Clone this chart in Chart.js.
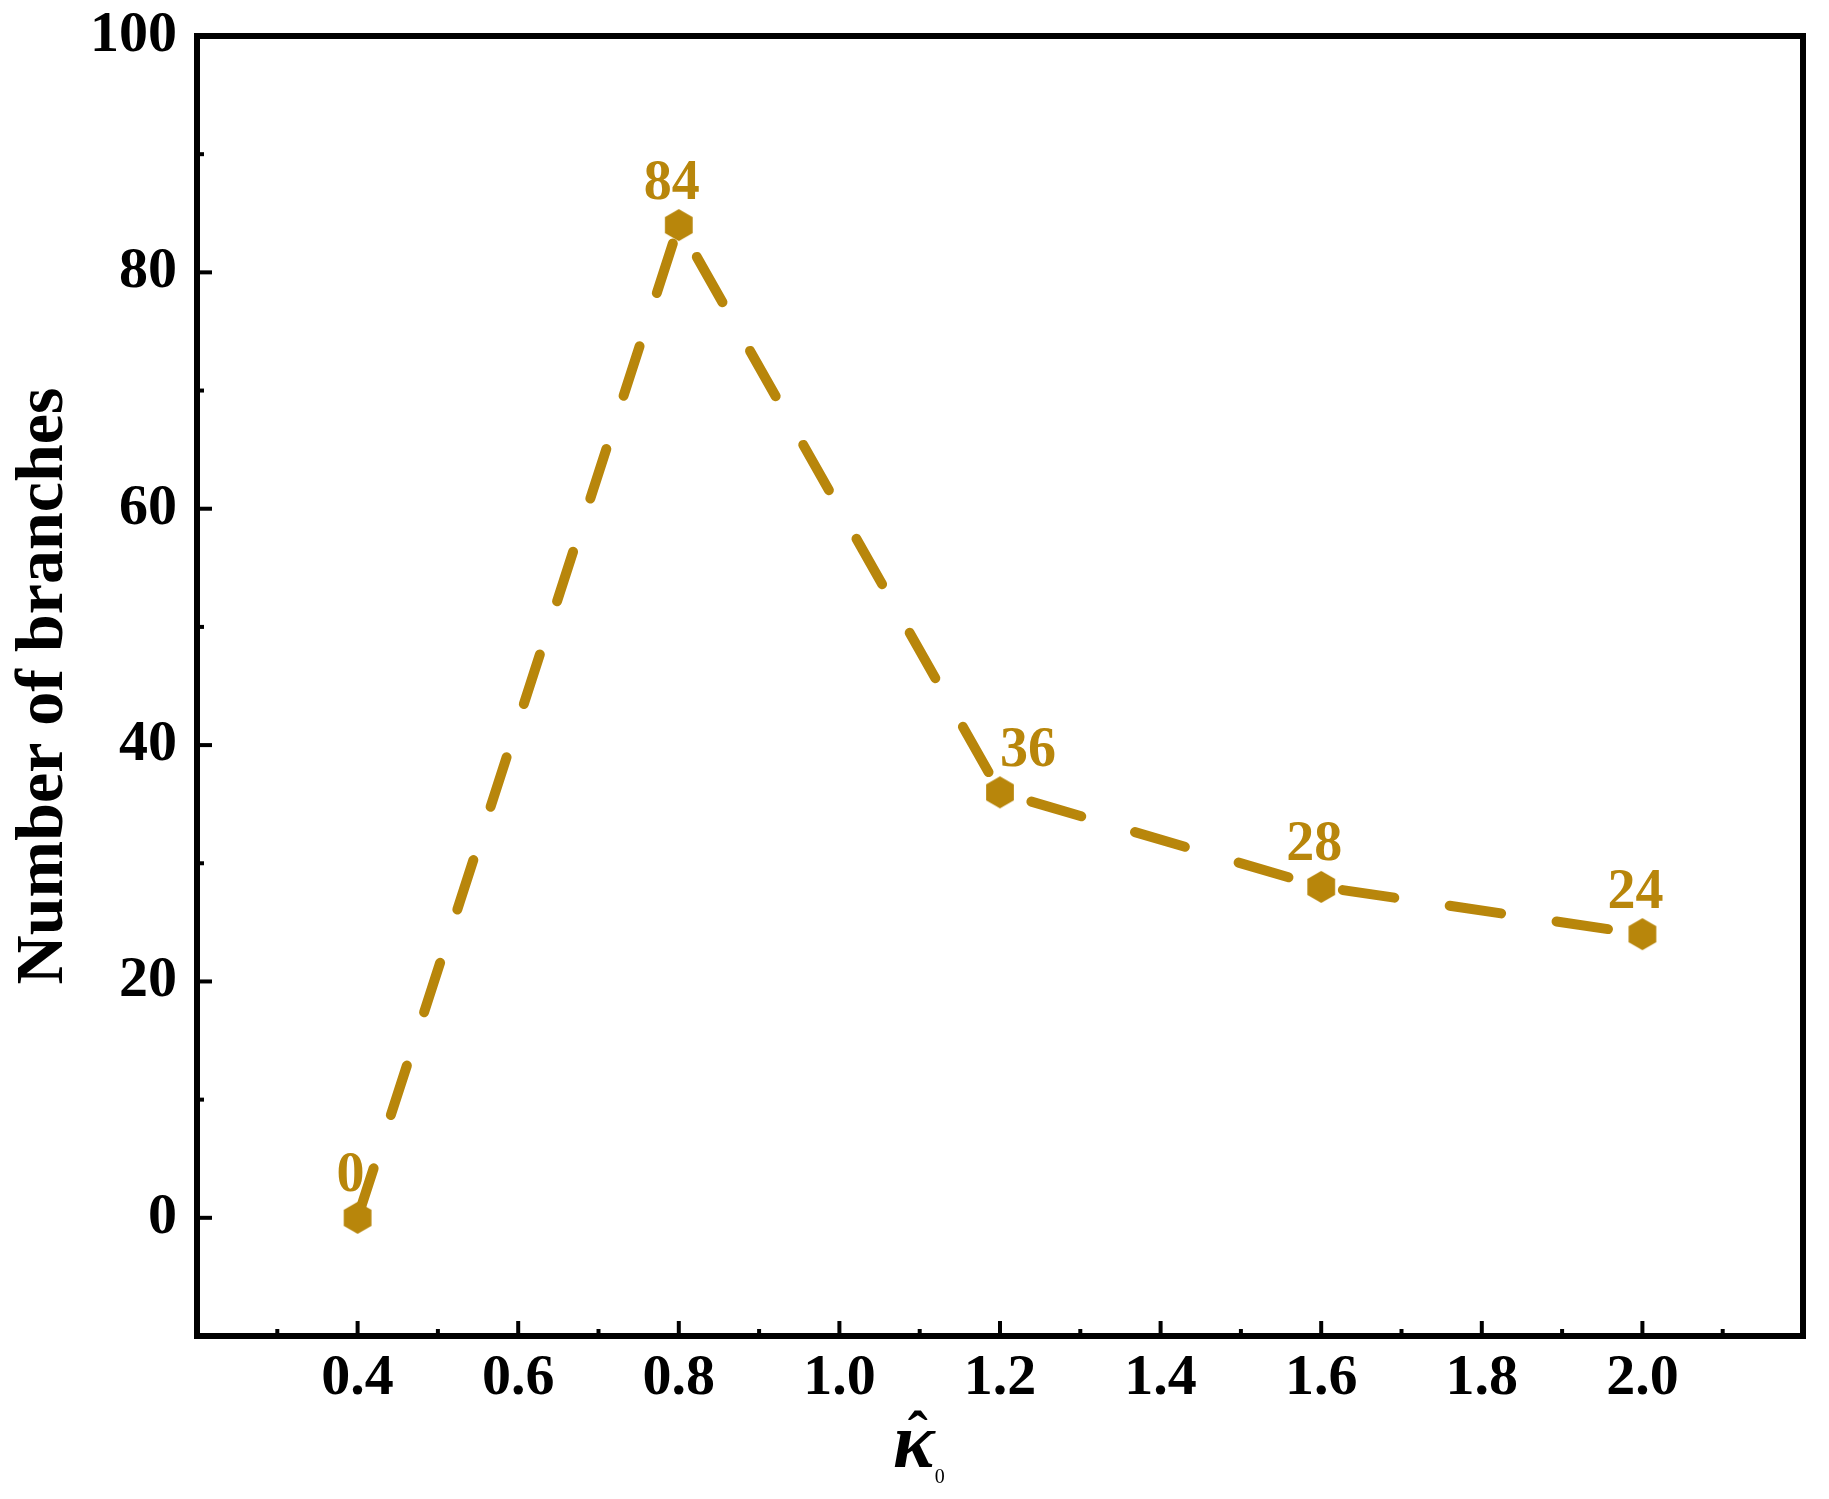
<!DOCTYPE html>
<html>
<head>
<meta charset="utf-8">
<script src="https://cdn.jsdelivr.net/npm/chart.js@4.4.1/dist/chart.umd.min.js"></script>
<style>
  html, body { margin: 0; padding: 0; background: #fff; }
  #wrap { width: 1829px; height: 1499px; }
</style>
</head>
<body>
<div id="wrap"><canvas id="myChart" width="1829" height="1499"></canvas></div>
<script>
// data
const kappaValues = [0.4, 0.8, 1.2, 1.6, 2.0];
const branchCounts = [0, 84, 36, 28, 24];
const xTickLabels = ['0.4', '0.6', '0.8', '1.0', '1.2', '1.4', '1.6', '1.8', '2.0'];
const yTickLabels = ['0', '20', '40', '60', '80', '100'];

const GOLD = '#B8860B';
const SERIF = '"Liberation Serif", "Times New Roman", serif';

document.addEventListener("DOMContentLoaded", () => {
    displayChart();
})

function hexagon(r, color) {
    let c = document.createElement('canvas');
    let size = Math.ceil(r * 2) + 2;
    c.width = size;
    c.height = size;
    let g = c.getContext('2d');
    g.fillStyle = color;
    g.beginPath();
    for (let k = 0; k < 6; k++) {
        let ang = -Math.PI / 2 + k * Math.PI / 3;
        let px = size / 2 + r * Math.cos(ang);
        let py = size / 2 + r * Math.sin(ang);
        if (k === 0) g.moveTo(px, py); else g.lineTo(px, py);
    }
    g.closePath();
    g.fill();
    return c;
}

// inward ticks + closed frame, like the original plot
const frameTicks = {
    id: 'frameTicks',
    afterDraw(chart) {
        const {ctx, chartArea: a, scales: {x, y}} = chart;
        ctx.save();
        ctx.strokeStyle = '#000';
        ctx.lineCap = 'butt';
        ctx.lineWidth = 4;

        let n = Math.round((x.max - x.min) / 0.1);
        for (let i = 1; i < n; i++) {
            let v = x.min + i * 0.1;
            let major = i % 2 === 0;
            let px = x.getPixelForValue(v);
            ctx.beginPath();
            ctx.moveTo(px, a.bottom);
            ctx.lineTo(px, a.bottom - (major ? 15 : 7));
            ctx.stroke();
        }
        n = Math.round((y.max - y.min) / 10);
        for (let i = 1; i < n; i++) {
            let v = y.min + i * 10;
            let major = Math.round(v) % 20 === 0;
            let py = y.getPixelForValue(v);
            ctx.beginPath();
            ctx.moveTo(a.left, py);
            ctx.lineTo(a.left + (major ? 15 : 7), py);
            ctx.stroke();
        }

        ctx.lineWidth = 6;
        ctx.strokeRect(a.left, a.top, a.right - a.left, a.bottom - a.top);

        // x axis title: kappa hat, subscript 0
        let kx = x.getPixelForValue(1.1) - 6;
        let ky = 1467;
        ctx.fillStyle = '#000';
        ctx.textAlign = 'center';
        ctx.textBaseline = 'alphabetic';
        ctx.font = 'italic bold 78px ' + SERIF;
        ctx.fillText('κ', kx, ky);
        ctx.font = 'bold 60px ' + SERIF;
        ctx.fillText('ˆ', kx + 4, ky - 15);
        ctx.font = '20px ' + SERIF;
        ctx.fillText('0', kx + 26, ky + 16);
        ctx.restore();
    }
};

const valueLabels = {
    id: 'valueLabels',
    afterDatasetsDraw(chart) {
        const ctx = chart.ctx;
        const meta = chart.getDatasetMeta(0);
        ctx.save();
        ctx.fillStyle = GOLD;
        ctx.font = 'bold 56px ' + SERIF;
        ctx.textAlign = 'center';
        ctx.textBaseline = 'middle';
        meta.data.forEach((pt, i) => {
            let dx = i === 2 ? 28 : -7;
            ctx.fillText(String(branchCounts[i]), pt.x + dx, pt.y - 41);
        });
        ctx.restore();
    }
};

function displayChart() {
    var ctx = document.getElementById('myChart');
    var points = kappaValues.map((k, i) => ({x: k, y: branchCounts[i]}));
    var hex = hexagon(16, GOLD);

    new Chart(ctx, {
        type: 'line',
        data: {
            datasets: [{
                data: points,
                borderColor: GOLD,
                backgroundColor: GOLD,
                borderWidth: 10,
                borderDash: [52, 56],
                borderCapStyle: 'round',
                tension: 0,
                fill: false,
                pointStyle: hex,
                pointRadius: 16,
                pointHoverRadius: 16
            }]
        },
        options: {
            responsive: false,
            animation: false,
            devicePixelRatio: 1,
            layout: {
                padding: {left: 0, right: 15, top: 36, bottom: 0}
            },
            plugins: {
                legend: {display: false},
                tooltip: {enabled: false}
            },
            scales: {
                x: {
                    type: 'linear',
                    min: 0.2,
                    max: 2.2,
                    grid: {display: false, drawTicks: false},
                    border: {display: false},
                    ticks: {
                        stepSize: 0.2,
                        autoSkip: false,
                        maxRotation: 0,
                        padding: 8,
                        color: '#000',
                        font: {family: SERIF, size: 58, weight: 'bold'},
                        callback: (v) => {
                            let s = Number(v).toFixed(1);
                            return xTickLabels.includes(s) ? s : '';
                        }
                    },
                    afterFit: (scale) => {
                        scale.height = 163;
                        scale.paddingLeft = 0;
                        scale.paddingRight = 0;
                    }
                },
                y: {
                    min: -10,
                    max: 100,
                    grid: {display: false, drawTicks: false},
                    border: {display: false},
                    ticks: {
                        stepSize: 20,
                        autoSkip: false,
                        padding: 20,
                        color: '#000',
                        font: {family: SERIF, size: 58, weight: 'bold'},
                        callback: (v) => {
                            let s = String(Math.round(v));
                            return yTickLabels.includes(s) ? s : '';
                        }
                    },
                    title: {
                        display: true,
                        text: 'Number of branches',
                        color: '#000',
                        font: {family: SERIF, size: 68, weight: 'bold'},
                        padding: {top: 4, bottom: 0}
                    },
                    afterFit: (scale) => {
                        scale.width = 197;
                        scale.paddingTop = 0;
                        scale.paddingBottom = 0;
                    }
                }
            }
        },
        plugins: [frameTicks, valueLabels]
    });
}
</script>
</body>
</html>
